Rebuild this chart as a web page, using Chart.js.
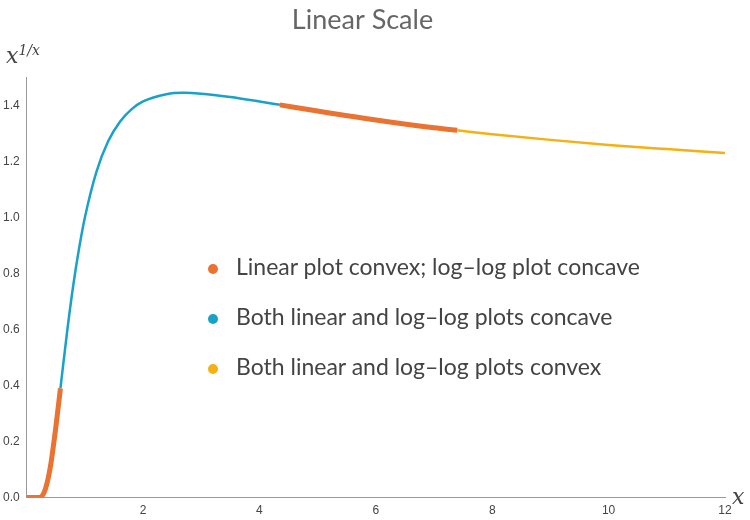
<!DOCTYPE html>
<html>
<head>
<meta charset="utf-8">
<script src="https://cdn.jsdelivr.net/npm/chart.js@4"></script>
<style>
body { margin: 0; background: #fff; font-family: "Lato", sans-serif; }
#wrap { position: relative; width: 750px; height: 520px; }
#legend { position: absolute; left: 208px; top: 248px; font-size: 23px; color: #444; }
#legend div { height: 50px; line-height: 36px; }
#legend span.dot { display: inline-block; width: 10px; height: 10px; border-radius: 5px; margin-right: 18px; vertical-align: middle; }
.lab { position: absolute; font-family: "DejaVu Serif", serif; font-style: italic; color: #444; }
</style>
</head>
<body>
<div id="wrap">
<canvas id="chart" width="750" height="520"></canvas>
<div class="lab" style="left:6px;top:42px;font-size:22px;">x<sup style="font-size:14px;">1/x</sup></div>
<div class="lab" style="left:732px;top:484px;font-size:22px;">x</div>
<div id="legend">
  <div><span class="dot" style="background:#ea7331"></span>Linear plot convex; log–log plot concave</div>
  <div><span class="dot" style="background:#18a2c8"></span>Both linear and log–log plots concave</div>
  <div><span class="dot" style="background:#f5b013"></span>Both linear and log–log plots convex</div>
</div>
</div>
<script>
// values
const xLow = [0, 0.1, 0.2, 0.3, 0.4, 0.5, 0.58];
const yLow = [0, 0, 0.0003, 0.018, 0.101, 0.25, 0.39];
const xRise = [0.58, 0.7, 0.8, 0.9, 1.0, 1.2, 1.4, 1.6, 1.8, 2.0, 2.4, 2.7, 3.0, 3.5, 4.0, 4.35];
const yRise = [0.39, 0.601, 0.757, 0.889, 1.0, 1.164, 1.272, 1.341, 1.386, 1.414, 1.440, 1.445, 1.442, 1.430, 1.414, 1.402];
const xMid = [4.35, 5, 6, 7, 7.4];
const yMid = [1.402, 1.380, 1.348, 1.320, 1.311];
const xTail = [7.4, 8, 9, 10, 11, 12];
const yTail = [1.311, 1.297, 1.277, 1.259, 1.244, 1.230];
const xTicks = [2, 4, 6, 8, 10, 12];
const yTicks = [0, 0.2, 0.4, 0.6, 0.8, 1.0, 1.2, 1.4];

function pts(xs, ys) { return xs.map((x, i) => ({ x: x, y: ys[i] })); }
function line(xs, ys, color, w) {
    return { data: pts(xs, ys), borderColor: color, borderWidth: w, showLine: true,
             pointRadius: 0, tension: 0.4, cubicInterpolationMode: "monotone" };
}

let ctx = document.getElementById("chart").getContext("2d");
new Chart(ctx, {
    type: "scatter",
    data: {
        datasets: [
            line(xRise, yRise, "#18a2c8", 2.5),
            line(xTail, yTail, "#f5b013", 2.5),
            line(xLow, yLow, "#ea7331", 5),
            line(xMid, yMid, "#ea7331", 5)
        ]
    },
    options: {
        responsive: false,
        animation: false,
        layout: { padding: { left: 0, right: 25, top: 0, bottom: 0 } },
        plugins: {
            legend: { display: false },
            tooltip: { enabled: false },
            title: { display: true, text: "Linear Scale", color: "#666",
                     font: { size: 27, family: "Lato", weight: "normal" },
                     padding: { top: 4, bottom: 41 } }
        },
        scales: {
            x: {
                type: "linear", min: 0, max: 12,
                afterBuildTicks: a => { a.ticks = xTicks.map(v => ({ value: v })); },
                grid: { display: false, drawTicks: true, tickLength: 4 },
                border: { color: "#999" },
                ticks: { color: "#444", font: { size: 12 }, padding: 2 }
            },
            y: {
                type: "linear", min: 0, max: 1.5,
                afterBuildTicks: a => { a.ticks = yTicks.map(v => ({ value: v })); },
                grid: { display: false, tickLength: 4 },
                border: { color: "#999" },
                ticks: { color: "#444", font: { size: 12 }, callback: v => v.toFixed(1) }
            }
        }
    }
});
</script>
</body>
</html>
